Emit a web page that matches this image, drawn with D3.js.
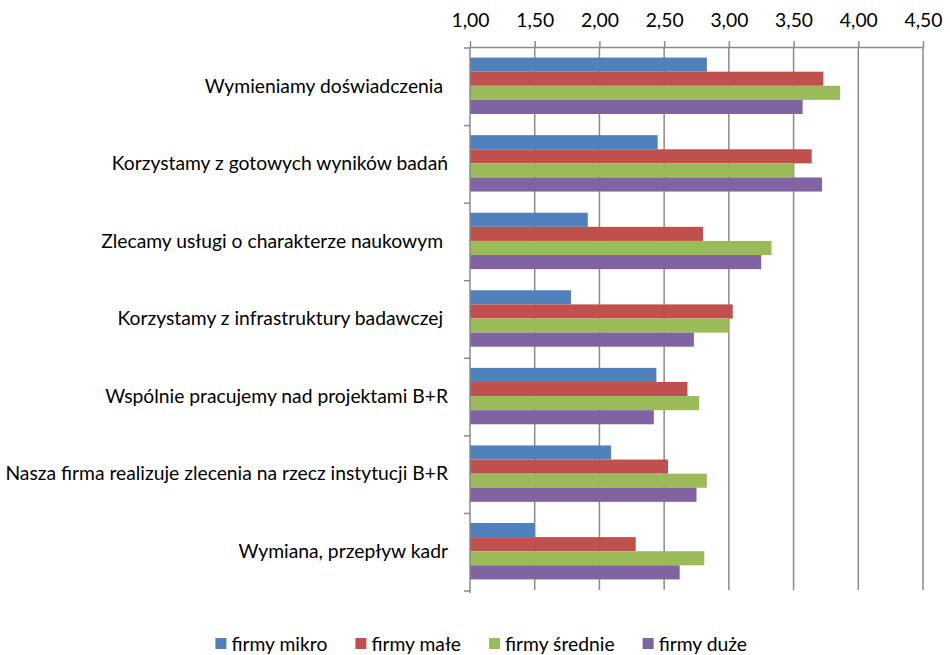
<!DOCTYPE html>
<html>
<head>
<meta charset="utf-8">
<script src="https://cdn.jsdelivr.net/npm/d3@7"></script>
<style>
  html, body { margin: 0; padding: 0; background: #fff; }
  svg { display: block; }
  text { font-family: Lato, "Open Sans", sans-serif; fill: #000; }
</style>
</head>
<body>
<svg id="chart" width="950" height="655"></svg>
<script>
// Categories (top to bottom)
const categories = [
  "Wymieniamy doświadczenia ",
  "Korzystamy z gotowych wyników badań",
  "Zlecamy usługi o charakterze naukowym ",
  "Korzystamy z infrastruktury badawczej ",
  "Wspólnie pracujemy nad projektami B+R",
  "Nasza firma realizuje zlecenia na rzecz instytucji B+R",
  "Wymiana, przepływ kadr"
];

// Series names and values (mean ratings, one per category)
const seriesNames = ["firmy mikro", "firmy małe", "firmy średnie", "firmy duże"];
const mikro   = [2.83, 2.45, 1.91, 1.78, 2.44, 2.09, 1.50];
const male    = [3.73, 3.64, 2.80, 3.03, 2.68, 2.53, 2.28];
const srednie = [3.86, 3.50, 3.33, 3.00, 2.77, 2.83, 2.81];
const duze    = [3.57, 3.72, 3.25, 2.73, 2.42, 2.75, 2.62];
const seriesValues = [mikro, male, srednie, duze];
const seriesColors = ["#4F81BD", "#C0504D", "#9BBB59", "#8064A2"];

// Axis ticks
const tickValues = [1.0, 1.5, 2.0, 2.5, 3.0, 3.5, 4.0, 4.5];

const FONT = "Lato, 'Open Sans', sans-serif";
const FSIZE = "19.3px";

const svg = d3.select("#chart");
const plot = { left: 470, right: 923, top: 47, bottom: 590 };

const x = d3.scaleLinear().domain([1, 4.5]).range([plot.left, plot.right]);
const y0 = d3.scaleBand().domain(categories).range([plot.top, plot.bottom]);
// Excel-style gap width of 150% between groups
const barH = y0.bandwidth() / (seriesNames.length + 1.5);
const gapHalf = barH * 0.75;
const y1 = d3.scaleBand().domain(seriesNames)
  .range([gapHalf, y0.bandwidth() - gapHalf]);

const gridColor = "#8a8a8a";
const fmt = v => d3.format(".2f")(v).replace(".", ",");

// Vertical gridlines
svg.append("g")
  .selectAll("line")
  .data(tickValues.slice(1))
  .join("line")
  .attr("x1", d => x(d)).attr("x2", d => x(d))
  .attr("y1", plot.top).attr("y2", plot.bottom)
  .attr("stroke", gridColor).attr("stroke-width", 1.5);

// Top value axis
const xAxis = svg.append("g")
  .attr("transform", `translate(0,${plot.top})`)
  .call(d3.axisTop(x).tickValues(tickValues).tickFormat(fmt).tickSizeInner(6).tickSizeOuter(0).tickPadding(14));
xAxis.select(".domain").attr("stroke", gridColor).attr("stroke-width", 1.5);
xAxis.selectAll(".tick line").attr("stroke", gridColor).attr("stroke-width", 1.5);
xAxis.selectAll(".tick text")
  .style("font-family", FONT)
  .style("font-size", FSIZE).attr("fill", "#000");

// Bars
const groups = svg.append("g")
  .selectAll("g")
  .data(categories)
  .join("g")
  .attr("transform", d => `translate(0,${y0(d)})`);

groups.selectAll("rect")
  .data((c, ci) => seriesNames.map((s, si) => ({ s, v: seriesValues[si][ci], color: seriesColors[si] })))
  .join("rect")
  .attr("x", x(1))
  .attr("y", d => y1(d.s))
  .attr("width", d => x(d.v) - x(1))
  .attr("height", y1.bandwidth())
  .attr("fill", d => d.color);

// Left category axis with boundary ticks
const leftG = svg.append("g");
leftG.append("line")
  .attr("x1", plot.left).attr("x2", plot.left)
  .attr("y1", plot.top).attr("y2", plot.bottom + 3)
  .attr("stroke", gridColor).attr("stroke-width", 1.5);
const boundaries = categories.map(c => y0(c)).concat([plot.bottom]);
leftG.selectAll("line.tk")
  .data(boundaries)
  .join("line")
  .attr("class", "tk")
  .attr("x1", plot.left - 6).attr("x2", plot.left)
  .attr("y1", d => d + 1).attr("y2", d => d + 1)
  .attr("stroke", gridColor).attr("stroke-width", 1.5);

// Category labels
svg.append("g")
  .selectAll("text")
  .data(categories)
  .join("text")
  .attr("x", plot.left - 22)
  .attr("y", d => y0(d) + y0.bandwidth() / 2)
  .attr("dy", "0.35em")
  .attr("text-anchor", "end")
  .style("font-size", FSIZE)
  .style("white-space", "pre")
  .text(d => d);

// Legend, right-aligned so the last label ends near the right of the plot
const legend = svg.append("g").attr("transform", "translate(0,643)");
const items = legend.selectAll("g")
  .data(seriesNames)
  .join("g");
items.append("rect")
  .attr("width", 11).attr("height", 11).attr("y", -5)
  .attr("fill", (d, i) => seriesColors[i]);
items.append("text")
  .attr("x", 16).attr("y", 1).attr("dy", "0.35em")
  .style("font-size", FSIZE)
  .text(d => d);
const widths = [];
items.each(function () { widths.push(this.getBBox().width); });
const spacing = 28;
const total = d3.sum(widths) + spacing * (widths.length - 1);
let cx = 747 - total;
items.attr("transform", (d, i) => {
  const t = `translate(${cx},0)`;
  cx += widths[i] + spacing;
  return t;
});
</script>
</body>
</html>
